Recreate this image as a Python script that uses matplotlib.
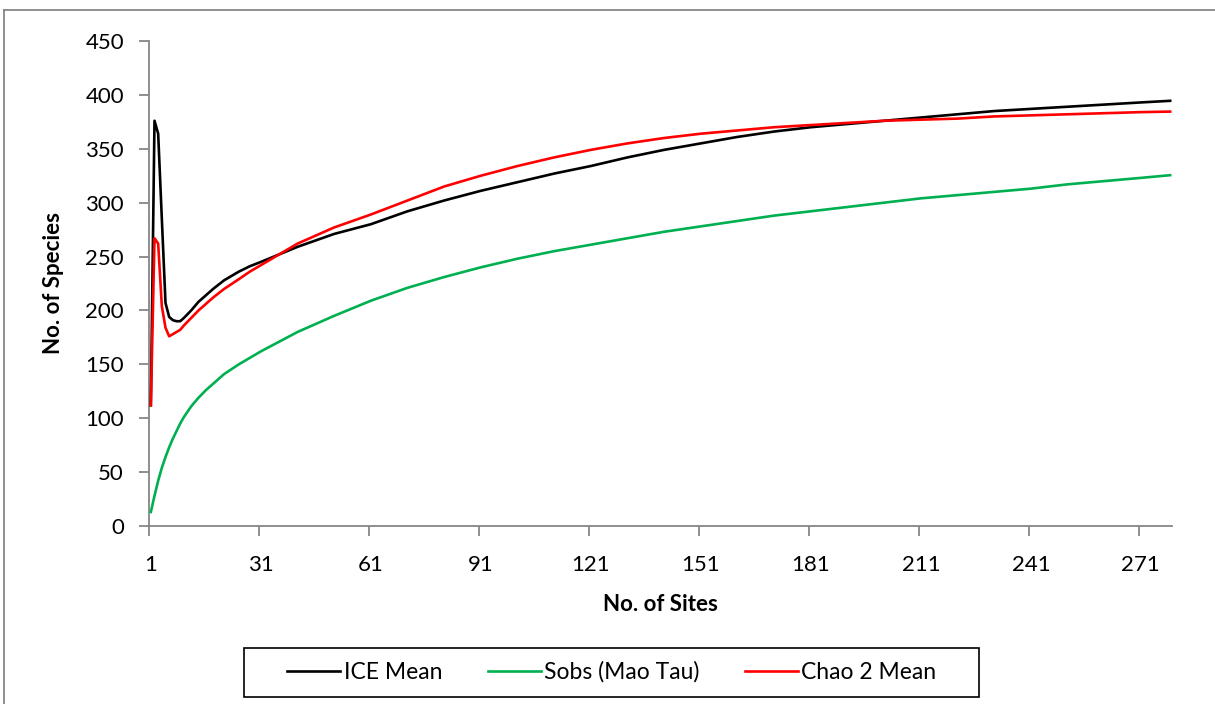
import matplotlib
matplotlib.use("Agg")
import matplotlib.pyplot as plt
from matplotlib.lines import Line2D
from matplotlib.patches import Rectangle

# values (sites are 1..279, lines join the read points)
ice_sites = [1, 2, 3, 4, 5, 6, 7, 8, 9, 10, 12, 14, 16, 18, 21, 25, 28, 31, 36, 41,
             51, 61, 71, 81, 91, 101, 111, 121, 131, 141, 151, 161, 171, 181, 191,
             201, 211, 221, 231, 241, 251, 261, 271, 279]
ice_mean = [112, 376, 364, 285, 207, 194, 191, 190, 190, 193, 200, 208, 214, 220, 228,
            236, 241, 245, 252, 259, 271, 280, 292, 302, 311, 319, 327, 334, 342, 349,
            355, 361, 366, 370, 373, 376, 379, 382, 385, 387, 389, 391, 393, 394.5]

sobs_sites = [1, 2, 3, 4, 5, 6, 7, 8, 9, 10, 12, 14, 16, 18, 21, 25, 31, 36, 41, 51,
              61, 71, 81, 91, 101, 111, 121, 131, 141, 151, 161, 171, 181, 191, 201,
              211, 221, 231, 241, 251, 261, 271, 279]
sobs_mao_tau = [13, 28, 42, 54, 64, 73, 81, 88, 95, 101, 111, 119, 126, 132, 141, 150,
                162, 171, 180, 195, 209, 221, 231, 240, 248, 255, 261, 267, 273, 278,
                283, 288, 292, 296, 300, 304, 307, 310, 313, 317, 320, 323, 325.5]

chao_sites = [1, 2, 3, 4, 5, 6, 7, 8, 9, 10, 12, 14, 16, 18, 21, 25, 28, 31, 36, 41,
              51, 61, 71, 81, 91, 101, 111, 121, 131, 141, 151, 161, 171, 181, 191,
              201, 211, 221, 231, 241, 251, 261, 271, 279]
chao2_mean = [112, 267, 262, 204, 184, 176, 178, 180, 182, 186, 193, 200, 206, 212, 220,
              229, 236, 242, 252, 262, 277, 289, 302, 315, 325, 334, 342, 349, 355, 360,
              364, 367, 370, 372, 374, 376, 377, 378, 380, 381, 382, 383, 384, 384.5]

n_sites = 279
tick_labels = ["1", "31", "61", "91", "121", "151", "181", "211", "241", "271"]
y_ticks = [0, 50, 100, 150, 200, 250, 300, 350, 400, 450]

plt.rcParams["font.family"] = ["Lato", "DejaVu Sans"]
axis_grey = "#868686"

W, H = 1215, 704
fig = plt.figure(figsize=(W / 100, H / 100), dpi=100)
ax = fig.add_axes([149 / W, 1 - 526 / H, (1172 - 149) / W, (526 - 41) / H])

ax.plot(ice_sites, ice_mean, color="black", lw=1.9, label="ICE Mean", zorder=3)
ax.plot(sobs_sites, sobs_mao_tau, color="#00B050", lw=1.9, label="Sobs (Mao Tau)", zorder=3)
ax.plot(chao_sites, chao2_mean, color="#FF0000", lw=1.9, label="Chao 2 Mean", zorder=4)

ax.set_xlim(0.5, n_sites + 0.5)
ax.set_ylim(0, 450)

# tick marks sit on category boundaries, labels on the categories
centers = [int(t) for t in tick_labels]
ax.set_xticks([c - 0.5 for c in centers])
ax.set_xticklabels([])
ax.set_xticks(centers, minor=True)
ax.set_xticklabels(tick_labels, minor=True)
ax.tick_params(axis="x", which="major", length=7, width=1.3, color=axis_grey, direction="out")
ax.tick_params(axis="x", which="minor", length=0, pad=21, labelsize=16)
ax.set_yticks(y_ticks)
ax.tick_params(axis="y", length=7, width=1.3, color=axis_grey, pad=11, labelsize=16)

for side in ("top", "right"):
    ax.spines[side].set_visible(False)
for side in ("left", "bottom"):
    ax.spines[side].set_color(axis_grey)
    ax.spines[side].set_linewidth(1.3)

ax.set_xlabel("No. of Sites", fontsize=16, fontweight="bold")
ax.xaxis.set_label_coords(0.5, -0.14)
ax.set_ylabel("No. of Species", fontsize=16, fontweight="bold")
ax.yaxis.set_label_coords(-0.083, 0.5)

leg = fig.legend(loc="center", bbox_to_anchor=(612 / W, 1 - 672 / H), ncol=3,
                 frameon=False, fontsize=16.5, handlelength=2.3, handletextpad=0.15,
                 columnspacing=2.0)

# legend box and the outer chart frame
fig.add_artist(Rectangle((244 / W, 1 - 697 / H), (979 - 244) / W, 49 / H,
                         transform=fig.transFigure, fill=False, edgecolor="black", lw=1.2))
fig.add_artist(Line2D([4 / W, 1], [1 - 10 / H, 1 - 10 / H], transform=fig.transFigure,
                      color=axis_grey, lw=1.3))
fig.add_artist(Line2D([4 / W, 4 / W], [0, 1 - 10 / H], transform=fig.transFigure,
                      color=axis_grey, lw=1.3))

fig.savefig("out.png", dpi=100)
